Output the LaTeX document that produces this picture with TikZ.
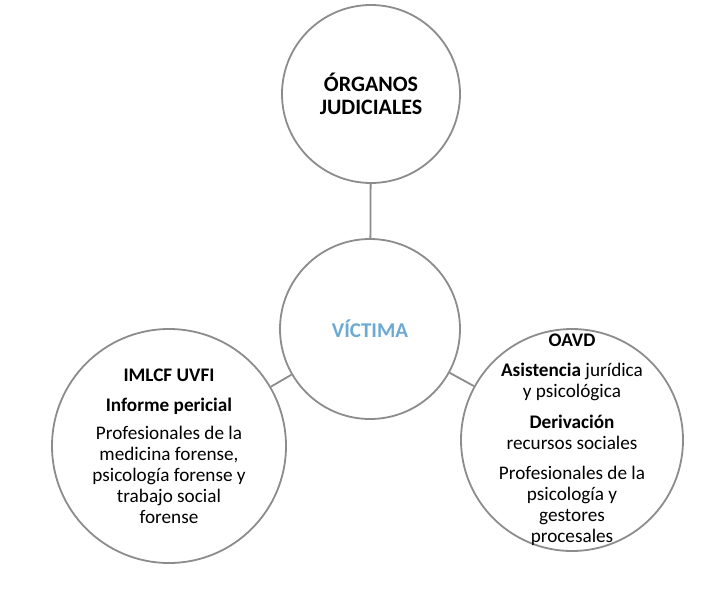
\documentclass[tikz,border=0pt]{standalone}
\usepackage{fontspec}
\setmainfont{Carlito}
\usetikzlibrary{positioning}

\definecolor{ringgray}{RGB}{140,140,140}
\definecolor{victimblue}{RGB}{108,170,212}

\begin{document}
\begin{tikzpicture}[x=1pt,y=-1pt]

\tikzstyle{myring}=[
  circle,
  draw=ringgray,
  line width=1.8pt,
  fill=white,
  inner sep=0pt]

\tikzstyle{mytext}=[
  inner sep=0pt,
  align=center,
  font=\fontsize{19.2}{21}\selectfont]

\tikzstyle{mylink}=[ringgray, line width=1.8pt]

\useasboundingbox (0,0) rectangle (717,603);

% define points
\path
  (371,94) coordinate(O)
  (370,329) coordinate(V)
  (169,446) coordinate(L)
  (572,440) coordinate(R)
  ;

\node[myring, minimum size=178pt] (organos) at (O) {};
\node[mytext, font=\fontsize{22}{23.5}\selectfont\bfseries] (organostxt) at (organos.center)
  {ÓRGANOS\\JUDICIALES};

\node[myring, minimum size=180pt] (victima) at (V) {};
\node[mytext, text=victimblue, font=\fontsize{21}{24}\selectfont\bfseries] (victimatxt) at (victima.center)
  {VÍCTIMA};

\node[myring, minimum size=234pt] (imlcf) at (L) {};
\node[mytext] (imlcftxt) at (imlcf.center)
  {\textbf{IMLCF UVFI}\\[9pt]
   \textbf{Informe pericial}\\[7pt]
   Profesionales de la\\
   medicina forense,\\
   psicología forense y\\
   trabajo social\\
   forense};

\node[myring, minimum size=222pt] (oavd) at (R) {};
\node[mytext] (oavdtxt) at (oavd.center)
  {\textbf{OAVD}\\[9pt]
   \textbf{Asistencia} jurídica\\
   y psicológica\\[10pt]
   \textbf{Derivación}\\
   recursos sociales\\[9pt]
   Profesionales de la\\
   psicología y\\
   gestores\\
   procesales};

% draw lines
\draw[mylink] (organos) -- (victima);
\draw[mylink] (victima) -- (imlcf);
\draw[mylink] (victima) -- (oavd);

\end{tikzpicture}
\end{document}
